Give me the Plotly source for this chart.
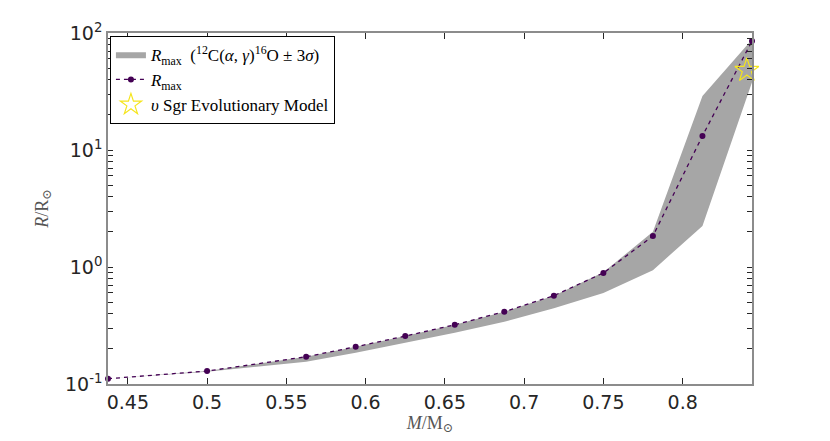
import plotly.graph_objects as go

# masses (M/Msun) and radii (R/Rsun)
mass = [0.4375, 0.5, 0.5625, 0.59375, 0.625, 0.65625, 0.6875, 0.71875,
        0.75, 0.78125, 0.8125, 0.84375]
r_max = [0.111, 0.129, 0.171, 0.208, 0.257, 0.321, 0.415, 0.569,
         0.889, 1.84, 13.2, 85.5]
r_upper = [0.111, 0.129, 0.171, 0.208, 0.257, 0.321, 0.415, 0.569,
           0.90, 2.0, 29.0, 88.0]
r_lower = [0.111, 0.127, 0.155, 0.185, 0.225, 0.274, 0.341, 0.443,
           0.60, 0.94, 2.24, 38.0]
star_mass = [0.8405]
star_radius = [48.0]

ytick_vals = [0.1, 1, 10, 100]
ytick_text = ["10<sup>-1</sup>", "10<sup>0</sup>", "10<sup>1</sup>", "10<sup>2</sup>"]
yminor_vals = [m * d for d in (0.1, 1, 10) for m in range(2, 10)]
xtick_vals = [0.45, 0.5, 0.55, 0.6, 0.65, 0.7, 0.75, 0.8]
xtick_text = ["0.45", "0.5", "0.55", "0.6", "0.65", "0.7", "0.75", "0.8"]

serif = "Liberation Serif, DejaVu Serif, serif"
sans = "DejaVu Sans, sans-serif"
axis_col = "#8c8c8c"
tick_col = "#262626"

fig = go.Figure()

fig.add_trace(go.Scatter(
    x=mass + mass[::-1], y=r_upper + r_lower[::-1],
    fill="toself", fillcolor="#a6a6a6", mode="lines",
    line=dict(width=0, color="#a6a6a6"),
    name="<i>R</i><sub>max</sub>  (<sup>12</sup>C(<i>α</i>, <i>γ</i>)<sup>16</sup>O ± 3<i>σ</i>)",
    hoverinfo="skip"))

fig.add_trace(go.Scatter(
    x=mass, y=r_max, mode="lines+markers",
    line=dict(color="#440154", width=1.3, dash="4px,4px"),
    marker=dict(color="#440154", size=6),
    name="<i>R</i><sub>max</sub>", cliponaxis=False))

fig.add_trace(go.Scatter(
    x=star_mass, y=star_radius, mode="markers",
    marker=dict(symbol="star-open", size=18, color="#f5e51c", line=dict(width=1.2)),
    name="<i>υ</i> Sgr Evolutionary Model", cliponaxis=False))

fig.update_xaxes(
    range=[0.4375, 0.84375], tickmode="array", tickvals=xtick_vals, ticktext=xtick_text,
    ticks="inside", ticklen=6, tickwidth=1.2, tickcolor=tick_col,
    showline=True, linecolor=axis_col, linewidth=1.5, mirror="ticks",
    showgrid=False, zeroline=False, layer="above traces",
    tickfont=dict(family=sans, size=19, color="#262626"),
    title=dict(text="<i>M</i>/M<sub>⊙</sub>", font=dict(family=serif, size=18, color="#555555"),
               standoff=2))

# major and minor log ticks in one list, minor ones left without a label
fig.update_yaxes(
    type="log", range=[-1, 2], tickmode="array",
    tickvals=ytick_vals + yminor_vals,
    ticktext=ytick_text + [""] * len(yminor_vals),
    ticks="inside", ticklen=5, tickwidth=1.2, tickcolor=tick_col,
    showline=True, linecolor=axis_col, linewidth=1.5, mirror="ticks",
    showgrid=False, zeroline=False, layer="above traces",
    tickfont=dict(family=sans, size=19, color="#262626"),
    title=dict(text="<i>R</i>/R<sub>⊙</sub>", font=dict(family=serif, size=18, color="#555555"),
               standoff=12))

fig.update_layout(
    width=830, height=441,
    margin=dict(l=100, r=86, t=25, b=65),
    plot_bgcolor="white", paper_bgcolor="white",
    legend=dict(x=0.003, y=0.992, xanchor="left", yanchor="top",
                bgcolor="white", bordercolor="black", borderwidth=1,
                font=dict(family=serif, size=17, color="black"),
                tracegroupgap=0, itemwidth=30))

fig.write_html("out.html")
